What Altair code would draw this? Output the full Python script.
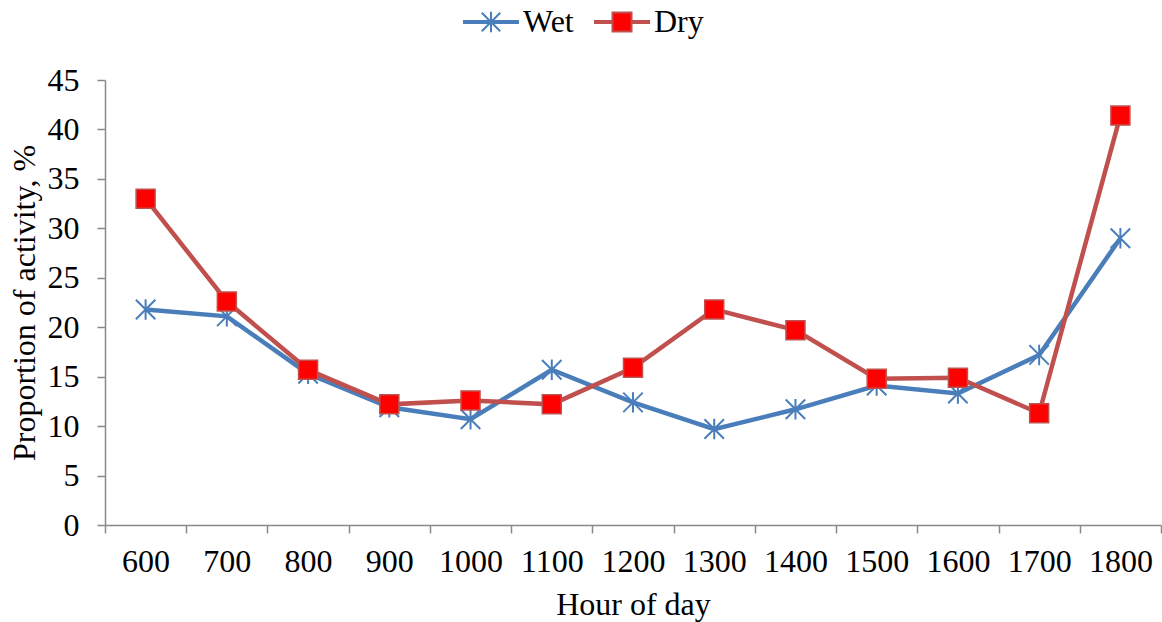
import altair as alt
import pandas as pd

hours = [600, 700, 800, 900, 1000, 1100, 1200, 1300, 1400, 1500, 1600, 1700, 1800]
wet = [21.8, 21.1, 15.3, 11.9, 10.7, 15.7, 12.4, 9.7, 11.7, 14.1, 13.3, 17.2, 29.0]
dry = [33.0, 22.6, 15.7, 12.2, 12.6, 12.2, 15.9, 21.8, 19.7, 14.8, 14.9, 11.3, 41.4]
series_names = ["Wet", "Dry"]
y_ticks = [0, 5, 10, 15, 20, 25, 30, 35, 40, 45]

WET_LINE = "#4A7EBB"
DRY_LINE = "#C0504D"
DRY_FILL = "#FF0000"
FONT = "Liberation Serif"

df = pd.DataFrame(
    {
        "hour": hours * 2,
        "value": wet + dry,
        "series": ["Wet"] * len(hours) + ["Dry"] * len(hours),
    }
)

# marker shapes (unit coordinates)
ASTERISK = "M-1,-1L1,1M-1,1L1,-1M0,-1.05L0,1.05"
# legend symbols: line segment + marker (scaled so that 1 unit = 28px)
LEG_WET = (
    "M-1,-0.036L1,-0.036M-1,0.036L1,0.036"
    "M-0.33,-0.33L0.33,0.33M-0.33,0.33L0.33,-0.33M0,-0.37L0,0.37"
)
LEG_DRY = (
    "M-1,-0.036L-0.34,-0.036M-1,0.036L-0.34,0.036"
    "M0.34,-0.036L1,-0.036M0.34,0.036L1,0.036"
    "M-0.34,-0.34L0.34,-0.34L0.34,0.34L-0.34,0.34Z"
)

x_enc = alt.X(
    "hour:O",
    sort=hours,
    scale=alt.Scale(type="band", paddingInner=0, paddingOuter=0),
    axis=alt.Axis(
        title="Hour of day",
        labelAngle=0,
        tickBand="extent",
        tickSize=8,
        labelPadding=13,
        titlePadding=12,
    ),
)
y_enc = alt.Y(
    "value:Q",
    scale=alt.Scale(domain=[0, 45], nice=False, zero=True),
    axis=alt.Axis(
        title="Proportion of activity, %",
        values=y_ticks,
        tickSize=8,
        labelPadding=18,
        titlePadding=6,
        grid=False,
    ),
)

base = alt.Chart(df).encode(x=x_enc, y=y_enc)

wet_line = base.transform_filter(alt.datum.series == "Wet").mark_line(
    color=WET_LINE, strokeWidth=4.5
)
wet_pts = base.transform_filter(alt.datum.series == "Wet").mark_point(
    shape=ASTERISK, size=380, stroke=WET_LINE, strokeWidth=2, filled=False, opacity=1
)
dry_line = base.transform_filter(alt.datum.series == "Dry").mark_line(
    color=DRY_LINE, strokeWidth=4.5
)
dry_pts = base.transform_filter(alt.datum.series == "Dry").mark_point(
    shape="square", size=361, fill=DRY_FILL, stroke=DRY_LINE, strokeWidth=1.5,
    filled=True, opacity=1
)


def leg():
    return alt.Legend(
        title=None,
        orient="none",
        legendX=357,
        legendY=-87,
        direction="horizontal",
        symbolSize=3136,
        symbolStrokeWidth=2,
        symbolOpacity=1,
        labelFont=FONT,
        labelFontSize=32,
        labelColor="black",
        labelOffset=3,
        columnPadding=16,
    )


legend_layer = base.mark_point(opacity=0, filled=True, strokeWidth=2).encode(
    shape=alt.Shape(
        "series:N",
        scale=alt.Scale(domain=series_names, range=[LEG_WET, LEG_DRY]),
        legend=leg(),
    ),
    fill=alt.Fill(
        "series:N",
        scale=alt.Scale(domain=series_names, range=[WET_LINE, DRY_FILL]),
        legend=leg(),
    ),
    stroke=alt.Stroke(
        "series:N",
        scale=alt.Scale(domain=series_names, range=[WET_LINE, DRY_LINE]),
        legend=leg(),
    ),
)

chart = (
    alt.layer(wet_line, wet_pts, dry_line, dry_pts, legend_layer)
    .properties(
        width=1056,
        height=445,
        autosize="none",
        padding={"left": 105, "top": 80, "right": 1, "bottom": 97},
        background="white",
    )
    .configure_view(stroke=None)
    .configure_axis(
        domainColor="#898989",
        tickColor="#898989",
        domainWidth=1.5,
        tickWidth=1.5,
        labelFont=FONT,
        labelFontSize=32,
        labelColor="black",
        titleFont=FONT,
        titleFontSize=32,
        titleFontWeight="normal",
        titleColor="black",
    )
)

chart.save("out.html", embed_options={"renderer": "svg", "actions": False})
